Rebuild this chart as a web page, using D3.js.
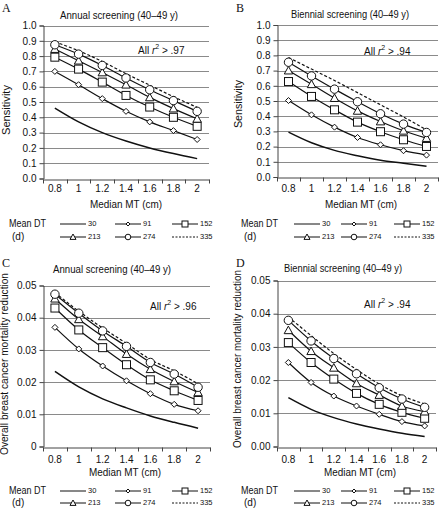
<!DOCTYPE html>
<html><head><meta charset="utf-8">
<script src="https://cdn.jsdelivr.net/npm/d3@7"></script>
<style>
body{margin:0;background:#fff}
svg{display:block}
text{font-family:"Liberation Sans",Arial,sans-serif;fill:#111}
</style></head>
<body>
<svg id="c" width="447" height="510"></svg>
<script>
// ---- data ----
const mtLabels = ["0.8","1","1.2","1.4","1.6","1.8","2"];
const dtLabels = ["30","91","152","213","274","335"];
const sensTicks = [0,0.1,0.2,0.3,0.4,0.5,0.6,0.7,0.8,0.9,1.0];
const sensTickLabels = ["0.0","0.1","0.2","0.3","0.4","0.5","0.6","0.7","0.8","0.9","1.0"];
const mortTicks = [0,0.01,0.02,0.03,0.04,0.05];
const mortTickLabelsC = ["0","0.01","0.02","0.03","0.04","0.05"];
const mortTickLabelsD = ["0.00","0.01","0.02","0.03","0.04","0.05"];
// rows: DT 30, 91, 152, 213, 274, 335
const sensAnnual = [
  [0.46,0.37,0.30,0.245,0.20,0.163,0.13],
  [0.70,0.613,0.522,0.439,0.37,0.313,0.255],
  [0.793,0.715,0.63,0.543,0.467,0.40,0.341],
  [0.846,0.77,0.693,0.613,0.53,0.457,0.39],
  [0.874,0.813,0.739,0.657,0.58,0.509,0.439],
  [0.893,0.835,0.765,0.685,0.61,0.535,0.465]];
const sensBiennial = [
  [0.295,0.225,0.175,0.14,0.11,0.09,0.07],
  [0.503,0.409,0.328,0.26,0.212,0.173,0.144],
  [0.628,0.53,0.442,0.361,0.298,0.245,0.201],
  [0.70,0.61,0.519,0.435,0.365,0.304,0.256],
  [0.755,0.665,0.578,0.495,0.416,0.348,0.293],
  [0.786,0.71,0.635,0.555,0.475,0.395,0.31]];
const mortAnnual = [
  [0.0233,0.0185,0.0148,0.012,0.0095,0.0075,0.0057],
  [0.037,0.0303,0.025,0.0204,0.0164,0.0131,0.0111],
  [0.043,0.0362,0.0307,0.0254,0.0207,0.0173,0.0143],
  [0.0459,0.0395,0.0342,0.0287,0.024,0.0202,0.0168],
  [0.0473,0.0414,0.0359,0.0311,0.0261,0.0225,0.0184],
  [0.0478,0.042,0.0368,0.032,0.027,0.0235,0.0195]];
const mortBiennial = [
  [0.0147,0.0112,0.0087,0.0068,0.0053,0.004,0.003],
  [0.0253,0.0193,0.0152,0.0122,0.0097,0.0075,0.0062],
  [0.0313,0.0253,0.0203,0.016,0.0127,0.0103,0.0085],
  [0.035,0.0287,0.0237,0.019,0.0155,0.0122,0.0105],
  [0.038,0.0318,0.0265,0.0219,0.0177,0.0143,0.0118],
  [0.039,0.0334,0.028,0.0232,0.0188,0.0153,0.0128]];
const markerTypes = ["none","diamond","square","triangle","circle","dashed"];

// ---- layout ----
const panels = [
  {letter:"A", lx:2, ly:9, title:"Annual screening (40–49 y)", tx:119, ty:16,
   x0:43, x1:209, yT:25.5, yB:178.5, max:1.0, ticks:sensTicks, tl:sensTickLabels, data:sensAnnual,
   ylab:"Sensitivity", ylx:7, yly:110, yllen:50, r2:".97", r2x:138, r2y:51,
   xly:189, mty:205, mtx:126, legX:9, legLines:[60,115,172], legY:[224,237]},
  {letter:"B", lx:236, ly:9, title:"Biennial screening (40–49 y)", tx:350, ty:15,
   x0:277, x1:438, yT:25, yB:177, max:1.0, ticks:sensTicks, tl:sensTickLabels, data:sensBiennial,
   ylab:"Sensitivity", ylx:239, yly:104, yllen:48, r2:".94", r2x:364, r2y:52,
   xly:189, mty:205, mtx:361, legX:241, legLines:[294,341,394], legY:[224,237]},
  {letter:"C", lx:2, ly:264, title:"Annual screening (40–49 y)", tx:112, ty:270,
   x0:43, x1:210, yT:285.5, yB:446.5, max:0.05, ticks:mortTicks, tl:mortTickLabelsC, data:mortAnnual,
   ylab:"Overall breast cancer mortality reduction", ylx:5, yly:364, yllen:182, r2:".96", r2x:150, r2y:307,
   xly:460, mty:473, mtx:125, legX:9, legLines:[60,115,172], legY:[491,503]},
  {letter:"D", lx:236, ly:264, title:"Biennial screening (40–49 y)", tx:343, ty:269,
   x0:277, x1:436, yT:280.5, yB:446.5, max:0.05, ticks:mortTicks, tl:mortTickLabelsD, data:mortBiennial,
   ylab:"Overall breast cancer mortality reduction", ylx:238, yly:359, yllen:178, r2:".94", r2x:364, r2y:305,
   xly:460, mty:473, mtx:360, legX:241, legLines:[294,341,394], legY:[491,503]}
];

const svg = d3.select("#c");

function marker(g, type, cx, cy, s) {
  const st = {fill:"#fff", stroke:"#111", "stroke-width":1};
  let el;
  if (type === "circle") el = g.append("circle").attr("cx",cx).attr("cy",cy).attr("r",s);
  else if (type === "square") el = g.append("rect").attr("x",cx-s).attr("y",cy-s).attr("width",2*s).attr("height",2*s);
  else if (type === "triangle") el = g.append("path").attr("d",`M${cx},${cy-s}L${cx+s},${cy+s*0.8}L${cx-s},${cy+s*0.8}Z`);
  else if (type === "diamond") el = g.append("path").attr("d",`M${cx},${cy-s}L${cx+s},${cy}L${cx},${cy+s}L${cx-s},${cy}Z`);
  else return;
  for (const k in st) el.attr(k, st[k]);
}
const mSize = {circle:4.2, square:4, triangle:4.2, diamond:3};
const lSize = {circle:2.8, square:3, triangle:3, diamond:2};

panels.forEach(p => {
  const g = svg.append("g");
  const x = d3.scaleBand().domain(mtLabels).range([p.x0, p.x1]);
  const y = d3.scaleLinear().domain([0, p.max]).range([p.yB, p.yT]);

  // gridlines
  g.selectAll(".grid").data(p.ticks.slice(1)).enter().append("line")
    .attr("x1", p.x0).attr("x2", p.x1)
    .attr("y1", d => Math.round(y(d))+0.5).attr("y2", d => Math.round(y(d))+0.5)
    .attr("stroke", "#8a8a8a").attr("stroke-width", 1);

  // y axis
  const ya = d3.axisLeft(y).tickValues(p.ticks).tickFormat((d,i)=>p.tl[i]).tickSize(4).tickPadding(3);
  const yg = g.append("g").attr("transform", `translate(${p.x0+0.5},0)`).call(ya);
  yg.select(".domain").attr("stroke","#444");
  yg.selectAll(".tick line").attr("stroke","#444");
  yg.selectAll("text").style("font-size","10px").attr("fill","#111");

  // x axis (category)
  const xa = d3.axisBottom(x).tickSize(0).tickPadding(6);
  const xg = g.append("g").attr("transform", `translate(0,${Math.round(p.yB)+0.5})`).call(xa);
  xg.select(".domain").attr("stroke","#444");
  xg.selectAll("text").style("font-size","10px").attr("fill","#111")
    .attr("dy", null)
    .attr("y", p.xly - Math.round(p.yB) - 0.5).attr("dominant-baseline","middle");
  // category boundary ticks
  const bounds = mtLabels.map(d => x(d)).concat([p.x1]);
  g.selectAll(".xt").data(bounds).enter().append("line")
    .attr("x1", d => Math.round(d)+0.5).attr("x2", d => Math.round(d)+0.5)
    .attr("y1", Math.round(p.yB)+0.5).attr("y2", Math.round(p.yB)+4.5)
    .attr("stroke","#444");

  // lines
  const line = d3.line().x((d,i)=> x(mtLabels[i]) + x.bandwidth()/2).y(d => y(d)).curve(d3.curveMonotoneX);
  p.data.forEach((row, si) => {
    const t = markerTypes[si];
    g.append("path").attr("d", line(row)).attr("fill","none")
      .attr("stroke","#111").attr("stroke-width", si===0 ? 1.5 : 1.2)
      .attr("stroke-dasharray", t==="dashed" ? "3,2" : null);
  });
  p.data.forEach((row, si) => {
    const t = markerTypes[si];
    row.forEach((v,i) => marker(g, t, x(mtLabels[i]) + x.bandwidth()/2, y(v), mSize[t]));
  });

  // panel letter
  g.append("text").attr("x", p.lx).attr("y", p.ly).attr("dominant-baseline","middle")
    .style("font-family","'Liberation Serif','Times New Roman',serif").style("font-size","12px").text(p.letter);
  // title
  g.append("text").attr("x", p.tx).attr("y", p.ty).attr("text-anchor","middle").attr("dominant-baseline","middle")
    .style("font-size","10px").attr("textLength", 118).attr("lengthAdjust","spacingAndGlyphs").text(p.title);
  // r2
  const r2t = g.append("text").attr("x", p.r2x).attr("y", p.r2y).attr("dominant-baseline","middle").style("font-size","10px");
  r2t.append("tspan").text("All ");
  r2t.append("tspan").style("font-style","italic").text("r");
  r2t.append("tspan").attr("dy",-4).style("font-size","7px").text("2");
  r2t.append("tspan").attr("dy",4).text(" > " + p.r2);
  // y label
  g.append("text").attr("transform", `translate(${p.ylx},${p.yly}) rotate(-90)`)
    .attr("text-anchor","middle").attr("dominant-baseline","middle")
    .style("font-size","10px").attr("textLength", p.yllen).attr("lengthAdjust","spacingAndGlyphs").text(p.ylab);
  // x label
  g.append("text").attr("x", p.mtx).attr("y", p.mty).attr("text-anchor","middle").attr("dominant-baseline","middle")
    .style("font-size","10px").attr("textLength", 72).attr("lengthAdjust","spacingAndGlyphs").text("Median MT (cm)");

  // legend
  g.append("text").attr("x", p.legX).attr("y", p.legY[0]).attr("dominant-baseline","middle")
    .style("font-size","10px").attr("textLength", 37).attr("lengthAdjust","spacingAndGlyphs").text("Mean DT");
  g.append("text").attr("x", p.legX+3).attr("y", p.legY[1]).attr("dominant-baseline","middle")
    .style("font-size","10px").text("(d)");
  dtLabels.forEach((lab, si) => {
    const row = Math.floor(si/3), col = si%3;
    const lx0 = p.legLines[col], lx1 = lx0 + 26, ly = p.legY[row];
    const t = markerTypes[si];
    g.append("line").attr("x1", lx0).attr("x2", lx1).attr("y1", ly).attr("y2", ly)
      .attr("stroke","#111").attr("stroke-width",1)
      .attr("stroke-dasharray", t==="dashed" ? "2,1.5" : null);
    marker(g, t, (lx0+lx1)/2, ly, lSize[t]);
    g.append("text").attr("x", lx1+2).attr("y", ly).attr("dominant-baseline","middle")
      .style("font-size","7.5px").text(lab);
  });
});
</script>
</body></html>
